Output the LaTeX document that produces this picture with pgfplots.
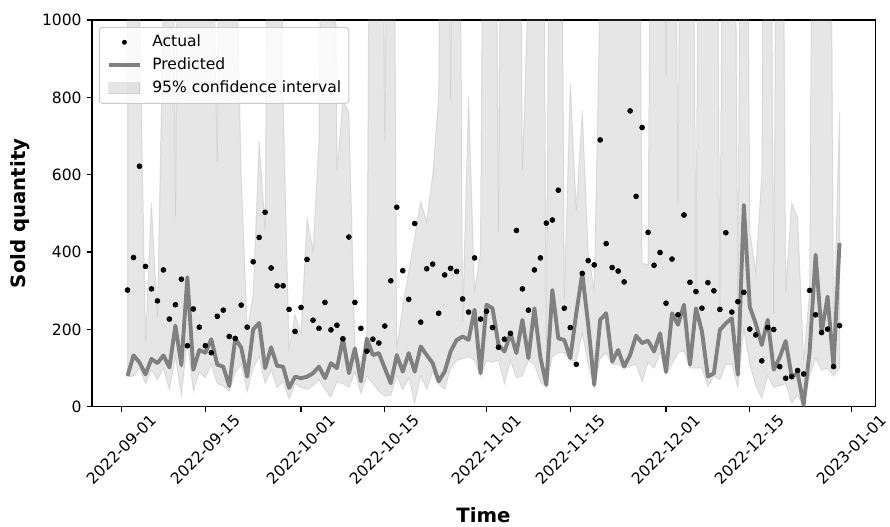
\documentclass[border=0pt]{standalone}
\usepackage{pgfplots}
\pgfplotsset{compat=1.18}
\usepackage{pgfplotstable}
\usepgfplotslibrary{fillbetween}
\usepackage{fontspec}
\setmainfont{DejaVu Sans}

\pgfplotstableread{
d act pred lo up
1 302 80 78 3000
2 386 133 80 3000
3 622 115 100 1050
4 363 84 60 170
5 305 124 95 527
6 274 113 70 233
7 354 133 100 1050
8 227 102 45 3000
9 264 210 130 492
10 330 108 30 3000
11 158 335 170 3000
12 253 96 40 3000
13 206 147 90 3000
14 158 140 75 3000
15 140 175 110 1500
16 234 109 60 634
17 250 104 55 3000
18 182 54 40 3000
19 177 177 90 1300
20 263 153 110 600
21 206 78 40 200
22 375 200 100 290
23 438 217 130 686
24 503 100 60 460
25 359 154 95 3000
26 313 106 50 3000
27 313 104 65 800
28 252 49 20 152
29 195 78 60 238
30 257 74 50 190
31 381 78 45 487
32 224 87 55 405
33 203 104 70 690
34 270 74 45 3000
35 199 113 25 3000
36 211 100 65 612
37 176 177 60 793
38 439 87 50 760
39 270 151 90 160
40 203 66 35 110
41 144 176 80 190
42 175 134 60 3000
43 165 139 40 3000
44 209 100 28 690
45 326 61 30 3000
46 516 134 80 152
47 352 91 45 260
48 278 139 75 350
49 474 91 10 440
50 219 156 80 531
51 357 134 45 479
52 369 113 90 600
53 242 66 60 800
54 341 91 45 3000
55 358 143 100 793
56 350 173 120 3000
57 279 182 125 220
58 245 173 130 802
59 385 251 120 300
60 227 87 80 400
61 247 264 120 3000
62 205 255 115 3000
63 154 160 120 453
64 175 143 60 3000
65 190 190 120 3000
66 456 139 75 3000
67 305 225 80 612
68 250 126 120 1100
69 354 255 110 3000
70 385 128 65 3000
71 475 57 52 120
72 483 302 130 3000
73 560 177 140 3000
74 255 173 140 280
75 205 126 120 837
76 110 242 120 509
77 345 345 190 765
78 378 212 110 400
79 367 57 50 300
80 690 225 125 1100
81 422 242 140 3000
82 360 117 110 3000
83 351 147 110 3000
84 323 104 100 3000
85 765 134 105 3000
86 544 184 110 3000
87 722 165 65 372
88 451 171 115 367
89 366 143 100 3000
90 399 190 140 3000
91 268 90 85 853
92 382 242 110 3000
93 238 212 140 527
94 496 264 145 3000
95 322 109 100 3000
96 298 255 100 300
97 255 195 100 3000
98 321 78 52 3000
99 300 87 80 3000
100 252 199 70 250
101 450 216 110 3000
102 245 229 110 3000
103 272 83 50 250
104 296 522 200 3000
105 201 259 110 453
106 186 215 55 350
107 119 160 22 600
108 205 225 80 3000
109 200 96 50 240
110 104 128 55 3000
111 74 170 60 300
112 78 78 10 527
113 94 87 30 488
114 85 5 0 120
115 301 143 80 300
116 238 393 125 3000
117 192 192 95 3000
118 201 285 100 3000
119 104 104 80 200
120 210 424 100 763
}\data

\begin{document}
\begin{tikzpicture}
\begin{axis}[
  at={(0,0)}, anchor=south west,
  scale only axis, width=564pt, height=278.6pt,
  xmin=-4.95, xmax=125.95, ymin=0, ymax=1000,
  xtick={0,14,30,44,61,75,91,105,122},
  xticklabels={2022-09-01,2022-09-15,2022-10-01,2022-10-15,2022-11-01,2022-11-15,2022-12-01,2022-12-15,2023-01-01},
  ytick={0,200,400,600,800,1000},
  tick align=outside, major tick length=3.9pt,
  tick style={black, line width=0.9pt},
  axis line style={line width=0.9pt},
  xtick pos=bottom, ytick pos=left,
  /pgf/number format/assume math mode=true,
  /pgf/number format/1000 sep={},
  tick label style={font=\fontsize{11.2}{13}\selectfont},
  xticklabel style={rotate=45, anchor=center},
  xticklabel shift=27pt,
  xlabel={Time}, ylabel={Sold quantity},
  label style={font=\bfseries\fontsize{14.2}{16}\selectfont},
  xlabel style={at={(axis description cs:0.5,-0.279)}, anchor=center},
  ylabel style={at={(axis description cs:-0.0919,0.5)}, anchor=center},
  legend cell align=left,
  legend style={at={(axis description cs:0,1)}, anchor=north west, xshift=5pt, yshift=-5pt,
    font=\fontsize{11.2}{13}\selectfont, draw=black!20, line width=0.72pt, rounded corners=2pt,
    fill=white, fill opacity=0.8, text opacity=1, draw opacity=1,
    inner xsep=5.5pt, inner ysep=5.3pt, row sep=5.8pt, column sep=7.5pt,
    nodes={inner sep=0pt, text height=8.5pt, text depth=2.3pt}},
]
\addplot[draw=none, name path=U, forget plot] table[x=d, y=up]{\data};
\addplot[draw=none, name path=L, forget plot] table[x=d, y=lo]{\data};
\addplot[fill=gray, fill opacity=0.2, draw=gray, draw opacity=0.2, line width=0.72pt, forget plot] fill between[of=U and L];
\addplot[only marks, mark=*, mark size=1.8pt, black, forget plot] table[x=d, y=act]{\data};
\addplot[color=gray, line width=2.8pt, line join=round, forget plot] table[x=d, y=pred]{\data};

\addlegendimage{draw=none, fill=none, legend image code/.code={\path[draw=none, fill=none] (0pt,0pt) (22.3pt,0pt); \fill[black, fill opacity=1, draw=none] (11.15pt,0pt) circle (1.8pt);}}
\addlegendentry{Actual}
\addlegendimage{legend image code/.code={\draw[color=gray, line width=2.8pt, draw opacity=1, rounded corners=0pt] (0pt,0pt) -- (22.3pt,0pt);}}
\addlegendentry{Predicted}
\addlegendimage{legend image code/.code={\filldraw[fill=gray, fill opacity=0.2, draw=gray, draw opacity=0.2, line width=0.72pt, rounded corners=0pt] (0pt,-3.95pt) rectangle (22.3pt,3.95pt);}}
\addlegendentry{95\% confidence interval}
\end{axis}
\pgfresetboundingbox
\path[use as bounding box] (-66.2pt,-86.4pt) rectangle (574.7pt,293pt);
\end{tikzpicture}
\end{document}
